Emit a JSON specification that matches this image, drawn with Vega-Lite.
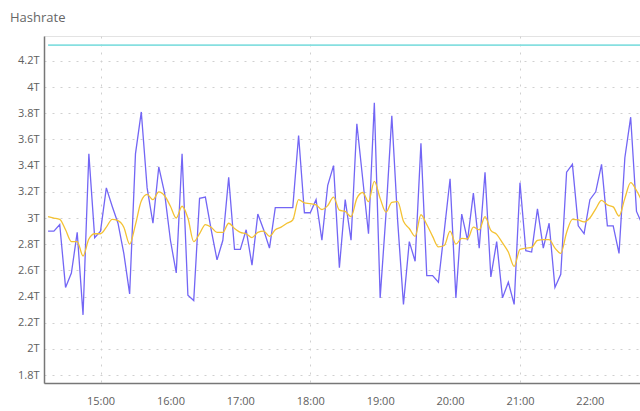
{
"$schema":"https://vega.github.io/schema/vega-lite/v6.json",
"width":596,"height":347,
"autosize":{"type":"none"},
"padding":{"left":44,"top":36,"right":0,"bottom":28},
"background":"white",
"title":{"text":"Hashrate","anchor":"start","frame":"group","dx":-34,"offset":1,"baseline":"alphabetic","fontSize":13,"fontWeight":"normal","color":"#666","font":"Open Sans"},
"config":{"view":{"stroke":"#e3e3e3"},"axis":{"labelFont":"Open Sans","labelFontSize":11,"labelColor":"#606060","domainColor":"#777","domainWidth":1.5,"ticks":false,"gridColor":"#d0d0d0","gridDash":[2,6],"labelOverlap":false}},
"datasets":{
"hash":[
{"t":"2024-01-01T14:15","h":2.90,"a":3.01},
{"t":"2024-01-01T14:20","h":2.90,"a":3.00},
{"t":"2024-01-01T14:25","h":2.95,"a":2.99},
{"t":"2024-01-01T14:30","h":2.47,"a":2.91},
{"t":"2024-01-01T14:35","h":2.58,"a":2.82},
{"t":"2024-01-01T14:40","h":2.89,"a":2.82},
{"t":"2024-01-01T14:45","h":2.26,"a":2.71},
{"t":"2024-01-01T14:50","h":3.49,"a":2.84},
{"t":"2024-01-01T14:55","h":2.85,"a":2.88},
{"t":"2024-01-01T15:00","h":2.90,"a":2.88},
{"t":"2024-01-01T15:05","h":3.23,"a":2.93},
{"t":"2024-01-01T15:10","h":3.09,"a":2.99},
{"t":"2024-01-01T15:15","h":2.96,"a":2.98},
{"t":"2024-01-01T15:20","h":2.73,"a":2.93},
{"t":"2024-01-01T15:25","h":2.42,"a":2.80},
{"t":"2024-01-01T15:30","h":3.49,"a":2.95},
{"t":"2024-01-01T15:35","h":3.81,"a":3.13},
{"t":"2024-01-01T15:40","h":3.23,"a":3.18},
{"t":"2024-01-01T15:45","h":2.96,"a":3.14},
{"t":"2024-01-01T15:50","h":3.39,"a":3.20},
{"t":"2024-01-01T15:55","h":3.19,"a":3.17},
{"t":"2024-01-01T16:00","h":2.83,"a":3.09},
{"t":"2024-01-01T16:05","h":2.58,"a":3.00},
{"t":"2024-01-01T16:10","h":3.49,"a":3.09},
{"t":"2024-01-01T16:15","h":2.41,"a":3.00},
{"t":"2024-01-01T16:20","h":2.37,"a":2.82},
{"t":"2024-01-01T16:25","h":3.15,"a":2.88},
{"t":"2024-01-01T16:30","h":3.16,"a":2.95},
{"t":"2024-01-01T16:35","h":2.91,"a":2.93},
{"t":"2024-01-01T16:40","h":2.68,"a":2.89},
{"t":"2024-01-01T16:45","h":2.83,"a":2.89},
{"t":"2024-01-01T16:50","h":3.31,"a":2.96},
{"t":"2024-01-01T16:55","h":2.76,"a":2.92},
{"t":"2024-01-01T17:00","h":2.76,"a":2.89},
{"t":"2024-01-01T17:05","h":2.91,"a":2.88},
{"t":"2024-01-01T17:10","h":2.64,"a":2.85},
{"t":"2024-01-01T17:15","h":3.03,"a":2.89},
{"t":"2024-01-01T17:20","h":2.91,"a":2.90},
{"t":"2024-01-01T17:25","h":2.77,"a":2.86},
{"t":"2024-01-01T17:30","h":3.08,"a":2.91},
{"t":"2024-01-01T17:35","h":3.08,"a":2.93},
{"t":"2024-01-01T17:40","h":3.08,"a":2.96},
{"t":"2024-01-01T17:45","h":3.08,"a":2.985},
{"t":"2024-01-01T17:50","h":3.63,"a":3.14},
{"t":"2024-01-01T17:55","h":3.04,"a":3.115},
{"t":"2024-01-01T18:00","h":3.04,"a":3.11},
{"t":"2024-01-01T18:05","h":3.14,"a":3.10},
{"t":"2024-01-01T18:10","h":2.83,"a":3.065},
{"t":"2024-01-01T18:15","h":3.25,"a":3.095},
{"t":"2024-01-01T18:20","h":3.40,"a":3.16},
{"t":"2024-01-01T18:25","h":2.62,"a":3.06},
{"t":"2024-01-01T18:30","h":3.14,"a":3.05},
{"t":"2024-01-01T18:35","h":2.83,"a":3.01},
{"t":"2024-01-01T18:40","h":3.72,"a":3.15},
{"t":"2024-01-01T18:45","h":3.30,"a":3.195},
{"t":"2024-01-01T18:50","h":2.88,"a":3.125},
{"t":"2024-01-01T18:55","h":3.88,"a":3.28},
{"t":"2024-01-01T19:00","h":2.39,"a":3.15},
{"t":"2024-01-01T19:05","h":3.03,"a":3.045},
{"t":"2024-01-01T19:10","h":3.78,"a":3.12},
{"t":"2024-01-01T19:15","h":2.98,"a":3.125},
{"t":"2024-01-01T19:20","h":2.34,"a":2.975},
{"t":"2024-01-01T19:25","h":2.82,"a":2.92},
{"t":"2024-01-01T19:30","h":2.67,"a":2.86},
{"t":"2024-01-01T19:35","h":3.57,"a":3.025},
{"t":"2024-01-01T19:40","h":2.56,"a":2.95},
{"t":"2024-01-01T19:45","h":2.56,"a":2.86},
{"t":"2024-01-01T19:50","h":2.51,"a":2.78},
{"t":"2024-01-01T19:55","h":2.90,"a":2.79},
{"t":"2024-01-01T20:00","h":3.30,"a":2.90},
{"t":"2024-01-01T20:05","h":2.39,"a":2.80},
{"t":"2024-01-01T20:10","h":3.03,"a":2.845},
{"t":"2024-01-01T20:15","h":2.83,"a":2.84},
{"t":"2024-01-01T20:20","h":3.19,"a":2.93},
{"t":"2024-01-01T20:25","h":2.77,"a":2.91},
{"t":"2024-01-01T20:30","h":3.35,"a":3.01},
{"t":"2024-01-01T20:35","h":2.55,"a":2.905},
{"t":"2024-01-01T20:40","h":2.82,"a":2.875},
{"t":"2024-01-01T20:45","h":2.39,"a":2.81},
{"t":"2024-01-01T20:50","h":2.51,"a":2.74},
{"t":"2024-01-01T20:55","h":2.34,"a":2.63},
{"t":"2024-01-01T21:00","h":3.27,"a":2.76},
{"t":"2024-01-01T21:05","h":2.75,"a":2.77},
{"t":"2024-01-01T21:10","h":2.74,"a":2.775},
{"t":"2024-01-01T21:15","h":3.07,"a":2.83},
{"t":"2024-01-01T21:20","h":2.77,"a":2.835},
{"t":"2024-01-01T21:25","h":2.96,"a":2.835},
{"t":"2024-01-01T21:30","h":2.47,"a":2.77},
{"t":"2024-01-01T21:35","h":2.57,"a":2.73},
{"t":"2024-01-01T21:40","h":3.35,"a":2.89},
{"t":"2024-01-01T21:45","h":3.41,"a":2.99},
{"t":"2024-01-01T21:50","h":2.94,"a":2.985},
{"t":"2024-01-01T21:55","h":2.88,"a":2.97},
{"t":"2024-01-01T22:00","h":3.14,"a":3.00},
{"t":"2024-01-01T22:05","h":3.20,"a":3.07},
{"t":"2024-01-01T22:10","h":3.41,"a":3.135},
{"t":"2024-01-01T22:15","h":2.94,"a":3.10},
{"t":"2024-01-01T22:20","h":2.94,"a":3.085},
{"t":"2024-01-01T22:25","h":2.73,"a":3.015},
{"t":"2024-01-01T22:30","h":3.46,"a":3.15},
{"t":"2024-01-01T22:35","h":3.77,"a":3.27},
{"t":"2024-01-01T22:40","h":3.05,"a":3.21},
{"t":"2024-01-01T22:45","h":2.95,"a":3.12}
],
"cap":[
{"t":"2024-01-01T14:15","v":4.32},
{"t":"2024-01-01T22:43","v":4.32}
]},
"layer":[
{"data":{"name":"cap"},
 "mark":{"type":"line","color":"#86dfe0","strokeWidth":1.6},
 "encoding":{
  "x":{"field":"t","type":"temporal","title":null,"scale":{"domain":[{"year":2024,"month":1,"date":1,"hours":14,"minutes":11,"seconds":30},{"year":2024,"month":1,"date":1,"hours":22,"minutes":43}]},
   "axis":{"format":"%H:%M","tickCount":9,"grid":true,"gridOpacity":{"condition":{"test":"hours(datum.value) % 3 == 0","value":1},"value":0},"labelPadding":12}},
  "y":{"field":"v","type":"quantitative","title":null,"scale":{"domain":[1.74,4.39],"nice":false,"zero":false},
   "axis":{"values":[1.8,2,2.2,2.4,2.6,2.8,3,3.2,3.4,3.6,3.8,4,4.2],"tickCount":30,"format":".1f","labelExpr":"replace(datum.label,'.0','')+'T'","grid":true,"labelPadding":5,"labelOverlap":false,"labelBound":false,"labelFlush":false}}
 }},
{"data":{"name":"hash"},
 "mark":{"type":"line","color":"#7366f5","strokeWidth":1.3},
 "encoding":{"x":{"field":"t","type":"temporal"},"y":{"field":"h","type":"quantitative"}}},
{"data":{"name":"hash"},
 "mark":{"type":"line","color":"#f4c233","strokeWidth":1.3,"interpolate":"monotone"},
 "encoding":{"x":{"field":"t","type":"temporal"},"y":{"field":"a","type":"quantitative"}}}
]
}
